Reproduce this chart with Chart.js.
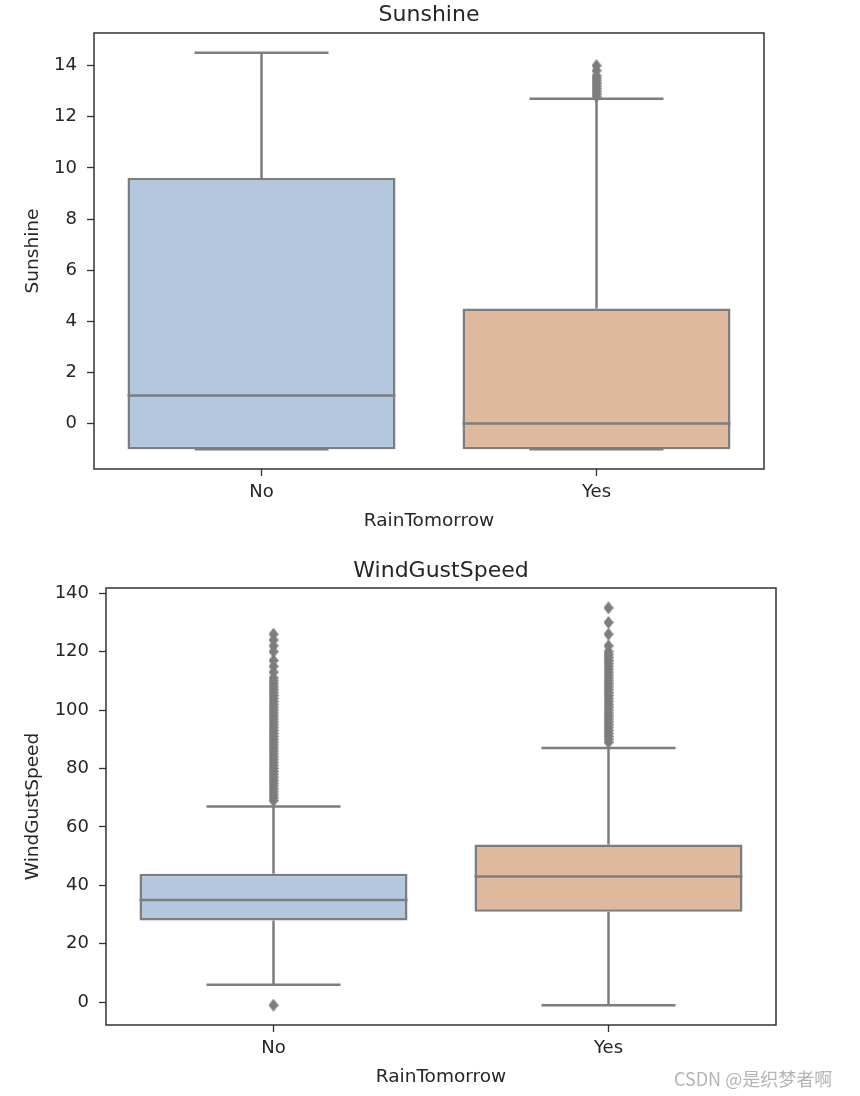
<!DOCTYPE html>
<html><head><meta charset="utf-8">
<script src="https://cdn.jsdelivr.net/npm/chart.js@4.4.1/dist/chart.umd.min.js"></script>
<style>
html,body{margin:0;padding:0;background:#fff;width:860px;height:1096px;overflow:hidden;position:relative}
#c1{position:absolute;left:0;top:0}
#c2{position:absolute;left:0;top:545px}
#wm{position:absolute;left:674px;top:1066px;font-family:"Noto Sans CJK SC","Noto Sans",sans-serif;font-size:18px;color:#b4b4b4;white-space:nowrap;line-height:24px}
</style></head><body>
<canvas id="c1" width="860" height="545"></canvas>
<canvas id="c2" width="860" height="551"></canvas>
<div id="wm">CSDN @是织梦者啊</div>
<script>
// ---------- data ----------
const categories = ['No', 'Yes'];

// Sunshine by RainTomorrow
const sunQ1 = [-1, -1];
const sunMedian = [1.1, 0.0];
const sunQ3 = [9.6, 4.5];
const sunWhiskerLow = [-1, -1];
const sunWhiskerHigh = [14.5, 12.7];
const sunOutliersNo = [];
const sunOutliersYes = [12.8, 12.9, 13.0, 13.1, 13.2, 13.3, 13.4, 13.5, 13.6, 13.8, 14.0];

// WindGustSpeed by RainTomorrow
const windQ1 = [28, 31];
const windMedian = [35, 43];
const windQ3 = [44, 54];
const windWhiskerLow = [6, -1];
const windWhiskerHigh = [67, 87];
const windOutliersNo = [-1, 69, 70, 71, 72, 73, 74, 75, 76, 77, 78, 79, 80, 81, 82, 83, 84, 85, 86, 87, 88, 89, 90, 91, 92, 93, 94, 95, 96, 97, 98, 99, 100, 101, 102, 103, 104, 105, 106, 107, 108, 109, 110, 111, 113, 115, 117, 120, 122, 124, 126];
const windOutliersYes = [89, 90, 91, 92, 93, 94, 95, 96, 97, 98, 99, 100, 101, 102, 103, 104, 105, 106, 107, 108, 109, 110, 111, 112, 113, 114, 115, 116, 117, 118, 119, 120, 122, 126, 130, 135];

const sunTickStep = 2;
const windTickStep = 20;

// ---------- styles ----------
const FONT = '"DejaVu Sans", "Liberation Sans", sans-serif';
const TEXT = '#262626';
const LINE = '#7d7d7d';
const FRAME = '#333333';
const FILLS = ['#b3c8df', '#dfb99e'];
const BOX_HALF = 0.4, CAP_HALF = 0.2;

function diamond() {
  const w = 10, h = 13;
  const c = document.createElement('canvas');
  c.width = w; c.height = h;
  const g = c.getContext('2d');
  g.fillStyle = LINE;
  g.beginPath();
  g.moveTo(w / 2, 0); g.lineTo(w, h / 2); g.lineTo(w / 2, h); g.lineTo(0, h / 2);
  g.closePath(); g.fill();
  return c;
}
const flierStyle = diamond();

const framePlugin = {
  id: 'frame',
  afterDraw(chart) {
    const {ctx, chartArea: a} = chart;
    ctx.save();
    ctx.strokeStyle = FRAME;
    ctx.lineWidth = 1.5;
    ctx.strokeRect(a.left, a.top, a.right - a.left, a.bottom - a.top);
    ctx.restore();
  }
};

function makeChart(id, o) {
  const lines = [];
  const gap = (x) => lines.push({x: x, y: null});
  categories.forEach((c, i) => {
    lines.push({x: i - CAP_HALF, y: o.wl[i]}, {x: i + CAP_HALF, y: o.wl[i]}); gap(i);
    lines.push({x: i, y: o.wl[i]}, {x: i, y: o.q1[i]}); gap(i);
    lines.push({x: i, y: o.q3[i]}, {x: i, y: o.wh[i]}); gap(i);
    lines.push({x: i - CAP_HALF, y: o.wh[i]}, {x: i + CAP_HALF, y: o.wh[i]}); gap(i);
    lines.push({x: i - BOX_HALF, y: o.med[i]}, {x: i + BOX_HALF, y: o.med[i]}); gap(i);
  });
  const fliers = [];
  o.out.forEach((arr, i) => arr.forEach(v => fliers.push({x: i, y: v})));
  const all = [].concat(o.wl, o.wh, o.q1, o.q3, o.out[0], o.out[1]);
  const dmin = Math.min(...all), dmax = Math.max(...all);
  const m = (dmax - dmin) * 0.05;

  return new Chart(document.getElementById(id), {
    type: 'bar',
    data: {
      datasets: [
        {
          type: 'line', data: lines, order: 0,
          borderColor: LINE, borderWidth: 2.5, pointRadius: 0, spanGaps: false,
          fill: false, tension: 0
        },
        {
          type: 'scatter', data: fliers, order: 1,
          pointStyle: flierStyle, pointRadius: 5
        },
        {
          type: 'bar', order: 2,
          data: categories.map((c, i) => ({x: i, y: [o.q1[i], o.q3[i]]})),
          backgroundColor: FILLS, borderColor: LINE, borderWidth: 2.5,
          borderSkipped: false, barPercentage: 0.8, categoryPercentage: 1.0
        }
      ]
    },
    options: {
      responsive: false, animation: false, devicePixelRatio: 1, events: [],
      layout: {padding: {left: 0, right: o.padRight, top: 0, bottom: 0}, autoPadding: false},
      plugins: {
        legend: {display: false}, tooltip: {enabled: false},
        title: {
          display: true, text: o.title, fullSize: false, color: TEXT,
          font: {family: FONT, size: 22, weight: 'normal'},
          padding: {top: o.titleTop, bottom: o.titleBottom}
        }
      },
      scales: {
        x: {
          type: 'linear', min: -0.5, max: 1.5, offset: false,
          afterFit: s => { s.height = o.xHeight; },
          afterBuildTicks: s => { s.ticks = categories.map((c, i) => ({value: i})); },
          border: {display: false},
          grid: {display: true, drawOnChartArea: false, drawTicks: true, tickLength: 7, offset: false, color: FRAME, tickWidth: 1.3},
          ticks: {
            autoSkip: false, maxRotation: 0,
            padding: 6, color: TEXT, font: {family: FONT, size: 18},
            callback: v => categories[Math.round(v)]
          },
          title: {display: true, text: 'RainTomorrow', color: TEXT, font: {family: FONT, size: 18.5}, padding: {top: 0, bottom: o.xTitleBottom}}
        },
        y: {
          type: 'linear', min: dmin - m, max: dmax + m, beginAtZero: false,
          afterFit: s => { s.width = o.yWidth; },
          border: {display: false},
          grid: {display: true, drawOnChartArea: false, drawTicks: true, tickLength: 7, color: FRAME, tickWidth: 1.3},
          ticks: {
            stepSize: o.step, includeBounds: false, padding: 10, color: TEXT,
            font: {family: FONT, size: 18}, callback: v => String(v)
          },
          title: {display: true, text: o.title, color: TEXT, font: {family: FONT, size: 18.5}, padding: {top: 22, bottom: 0}}
        }
      }
    },
    plugins: [framePlugin]
  });
}

makeChart('c1', {
  title: 'Sunshine', q1: sunQ1, med: sunMedian, q3: sunQ3, wl: sunWhiskerLow, wh: sunWhiskerHigh,
  out: [sunOutliersNo, sunOutliersYes], step: sunTickStep,
  padRight: 96, yWidth: 94, xHeight: 76, titleTop: 2.3, titleBottom: 4.3, xTitleBottom: 12.9
});
makeChart('c2', {
  title: 'WindGustSpeed', q1: windQ1, med: windMedian, q3: windQ3, wl: windWhiskerLow, wh: windWhiskerHigh,
  out: [windOutliersNo, windOutliersYes], step: windTickStep,
  padRight: 84, yWidth: 106, xHeight: 71, titleTop: 12.8, titleBottom: 3.8, xTitleBottom: 7.9
});
</script>
</body></html>
